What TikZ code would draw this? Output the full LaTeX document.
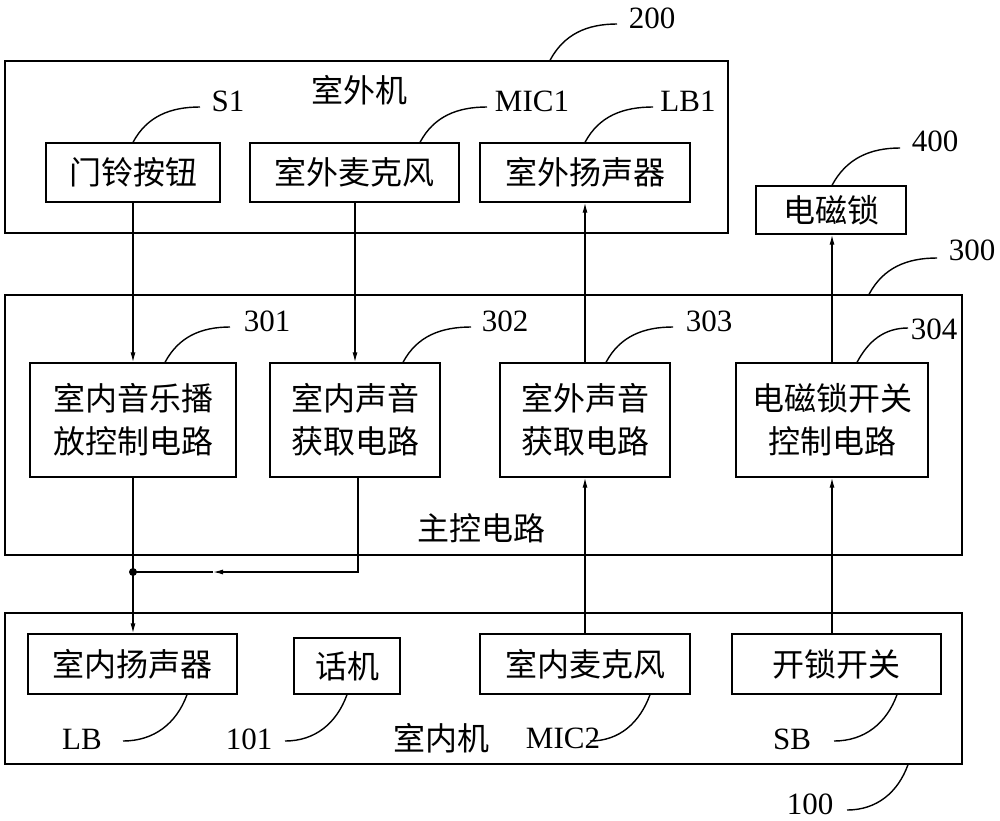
\documentclass[tikz,border=0pt]{standalone}
\usepackage{fontspec}
\setmainfont{Liberation Serif}
\newfontfamily\cjk{Noto Sans CJK SC}
\usetikzlibrary{arrows.meta}
\begin{document}
\begin{tikzpicture}[x=1pt,y=-1pt,line width=1.3pt,
  box/.style={draw,rectangle,inner sep=0pt,font=\cjk\fontsize{32}{43}\selectfont,align=center},
  grp/.style={draw,rectangle,inner sep=0pt},
  ttl/.style={inner sep=0pt,font=\cjk\fontsize{32}{43}\selectfont},
  lbl/.style={inner sep=0pt,font=\fontsize{31}{36}\selectfont},
  arr/.style={-{Latex[length=10pt,width=5pt]}},
  lead/.style={line width=1.4pt}]
\useasboundingbox (0,0) rectangle (1000,820);
% outdoor unit
\node[grp,minimum width=723pt,minimum height=172pt] (g200) at (366.5,147) {};
\node[ttl] (t200) at (359,90) {室外机};
\node[box,minimum width=174pt,minimum height=59pt] (bell) at (133,172.5) {门铃按钮};
\node[box,minimum width=209pt,minimum height=59pt] (omic) at (354.5,172.5) {室外麦克风};
\node[box,minimum width=210pt,minimum height=59pt] (ospk) at (585,172.5) {室外扬声器};
\node[box,minimum width=150pt,minimum height=48pt] (lock) at (831,210) {电磁锁};
% main control
\node[grp,minimum width=957pt,minimum height=260pt] (g300) at (483.5,425) {};
\node[ttl] (t300) at (481,528) {主控电路};
\node[box,minimum width=206pt,minimum height=114pt] (c301) at (133,420) {室内音乐播\\放控制电路};
\node[box,minimum width=170pt,minimum height=114pt] (c302) at (355,420) {室内声音\\获取电路};
\node[box,minimum width=170pt,minimum height=114pt] (c303) at (585,420) {室外声音\\获取电路};
\node[box,minimum width=192pt,minimum height=114pt] (c304) at (832,420) {电磁锁开关\\控制电路};
% indoor unit
\node[grp,minimum width=957pt,minimum height=151pt] (g100) at (483.5,688.5) {};
\node[ttl] (t100) at (441,738) {室内机};
\node[box,minimum width=209pt,minimum height=60pt] (ispk) at (132.5,664) {室内扬声器};
\node[box,minimum width=106pt,minimum height=56pt] (phone) at (347,666) {话机};
\node[box,minimum width=210pt,minimum height=60pt] (imic) at (585,664) {室内麦克风};
\node[box,minimum width=209pt,minimum height=60pt] (unlock) at (836.5,664) {开锁开关};
% signal connectors
\draw[arr] (bell.south) -- (c301.north);
\draw[arr] (c302.north |- omic.south) -- (c302.north);
\draw[arr] (c303.north) -- (ospk.south);
\draw[arr] (c304.north) -- (c304.north |- lock.south);
\coordinate (j) at (133,572);
\coordinate (m) at (213,572);
\draw[arr] ([xshift=3pt]c302.south) |- (m);
\draw (m) -- (j);
\fill (j) circle (4);
\draw[arr] (c301.south) -- (c301.south |- ispk.north);
\draw[arr] (imic.north) -- (c303.south);
\draw[arr] (c304.south |- unlock.north) -- (c304.south);
% reference labels
\node[lbl] (lS1) at (228,101) {S1};
\node[lbl] (lMIC1) at (532,101) {MIC1};
\node[lbl] (lLB1) at (688,101) {LB1};
\node[lbl] (l200) at (652,18) {200};
\node[lbl] (l400) at (935,141) {400};
\node[lbl] (l300) at (972,250) {300};
\node[lbl] (l301) at (267,321) {301};
\node[lbl] (l302) at (505,321) {302};
\node[lbl] (l303) at (709,321) {303};
\node[lbl] (l304) at (934,329) {304};
\node[lbl] (lLB) at (82,739) {LB};
\node[lbl] (l101) at (249,739) {101};
\node[lbl] (lMIC2) at (563,738) {MIC2};
\node[lbl] (lSB) at (792,739) {SB};
\node[lbl] (l100) at (810,804) {100};
\coordinate (eS1) at (200,107);
\coordinate (eMIC1) at (487,107);
\coordinate (eLB1) at (653,107);
\coordinate (e200) at (617,24);
\coordinate (e400) at (900,148);
\coordinate (e300) at (937,258);
\coordinate (e301) at (230,327);
\coordinate (e302) at (471,327);
\coordinate (e303) at (673,327);
\coordinate (e304) at (908,328);
\coordinate (eLB) at (123,741);
\coordinate (e101) at (285,741);
\coordinate (eMIC2) at (590,741);
\coordinate (eSB) at (834,741);
\coordinate (e100) at (847,810);
\draw[lead] (bell.north) to[out=62,in=180] (eS1);
\draw[lead] ([xshift=65.5pt]omic.north) to[out=62,in=180] (eMIC1);
\draw[lead] (ospk.north) to[out=62,in=180] (eLB1);
\draw[lead] (g200.north -| 550,0) to[out=62,in=180] (e200);
\draw[lead] ([xshift=1pt]lock.north) to[out=62,in=180] (e400);
\draw[lead] (g300.north -| 869,0) to[out=62,in=180] (e300);
\draw[lead] ([xshift=32pt]c301.north) to[out=62,in=180] (e301);
\draw[lead] ([xshift=48pt]c302.north) to[out=62,in=180] (e302);
\draw[lead] ([xshift=21pt]c303.north) to[out=62,in=180] (e303);
\draw[lead] ([xshift=25pt]c304.north) to[out=62,in=180] (e304);
\draw[lead] ([xshift=54.5pt]ispk.south) to[out=-110,in=0] (eLB);
\draw[lead] (phone.south) to[out=-110,in=0] (e101);
\draw[lead] ([xshift=65pt]imic.south) to[out=-110,in=0] (eMIC2);
\draw[lead] ([xshift=60.5pt]unlock.south) to[out=-110,in=0] (eSB);
\draw[lead] (g100.south -| 908,0) to[out=-110,in=0] (e100);
\end{tikzpicture}
\end{document}
